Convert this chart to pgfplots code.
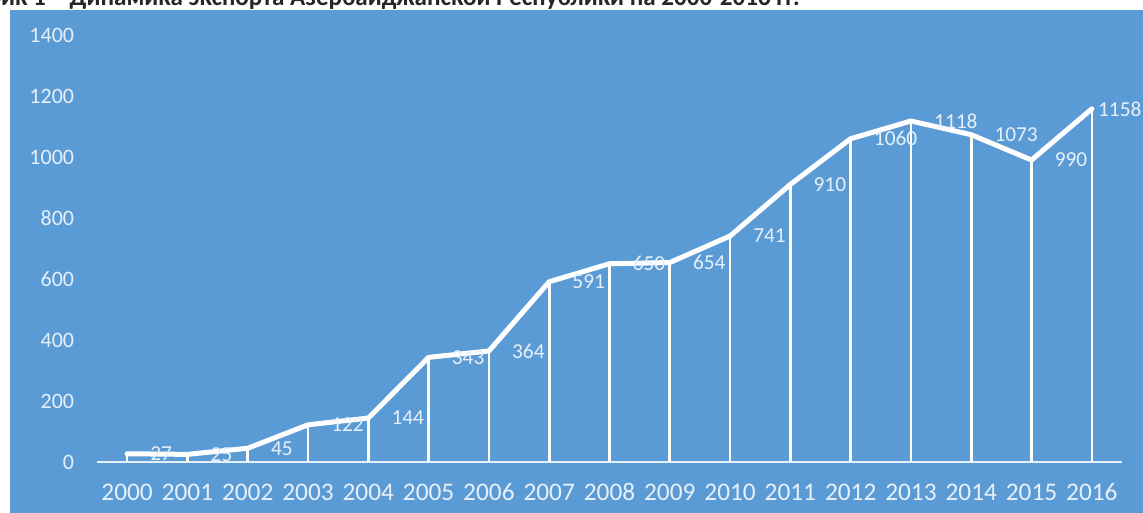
\documentclass[border=0pt]{standalone}
\usepackage{pgfplots}
\pgfplotsset{compat=1.18}
\usepackage{pgfplotstable}
\usepackage{fontspec}
\setmainfont{Carlito}
\definecolor{bg}{HTML}{5B9BD5}
\colorlet{lbl}{white!85!bg}
\pgfplotstableread{
x y lab
0 27 27
1 25 25
2 45 45
3 122 122
4 144 144
5 343 343
6 364 364
7 591 591
8 650 650
9 654 654
10 741 741
11 910 910
12 1060 1060
13 1118 1118
14 1073 1073
15 990 990
16 1158 1158
}\datatable
\begin{document}
\begin{tikzpicture}
\fill[white] (0,0) rectangle (857.25pt,-384.75pt);
\begin{scope}
\clip (0,0) rectangle (857.25pt,-384.75pt);
\fill[bg] (7.5pt,-7.5pt) rectangle (857.25pt,-384.75pt);
\node[anchor=base east, inner sep=0pt, font=\bfseries\fontsize{18.8}{18.8}\selectfont, text=black!85] at (600pt,-4.5pt) {График 1 – Динамика экспорта Азербайджанской Республики на 2000-2016 гг.};
\begin{axis}[
  at={(72.75pt,-346.5pt)}, anchor=south west,
  scale only axis, width=768.75pt, height=320.25pt,
  xmin=-0.5, xmax=16.5, ymin=0, ymax=1400,
  xtick={0,...,16},
  xticklabels={2000,2001,2002,2003,2004,2005,2006,2007,2008,2009,2010,2011,2012,2013,2014,2015,2016},
  ytick={0,200,...,1400},
  axis x line*=bottom, axis y line*=left,
  y axis line style={draw=none},
  x axis line style={lbl, line width=1.5pt},
  major tick length=0pt, tick style={draw=none},
  clip=false,
  /pgf/number format/assume math mode=true,
  /pgf/number format/1000 sep={},
  xticklabel style={font=\fontsize{19}{19}\selectfont, text=lbl, anchor=center, yshift=-22.5pt, inner sep=0pt},
  yticklabel style={font=\fontsize{16.5}{16.5}\selectfont, text=lbl, anchor=east, inner sep=0pt, xshift=-17pt},
]
\addplot[white, line width=2pt, ycomb] table[x=x,y=y]{\datatable};
\addplot[white, line width=3.75pt, line join=round, line cap=round] table[x=x,y=y]{\datatable};
\addplot[draw=none, nodes near coords, point meta=explicit symbolic,
  skip coords between index={16}{17},
  nodes near coords style={anchor=west, xshift=17.25pt, inner sep=0pt, text=lbl, font=\fontsize{16}{16}\selectfont}]
  table[x=x,y=y,meta=lab]{\datatable};
\addplot[draw=none, nodes near coords, point meta=explicit symbolic,
  skip coords between index={0}{16},
  nodes near coords style={anchor=west, xshift=4.5pt, inner sep=0pt, text=lbl, font=\fontsize{16}{16}\selectfont}]
  table[x=x,y=y,meta=lab]{\datatable};
\end{axis}
\end{scope}
\pgfresetboundingbox
\useasboundingbox (0,0) rectangle (857.25pt,-384.75pt);
\end{tikzpicture}
\end{document}
